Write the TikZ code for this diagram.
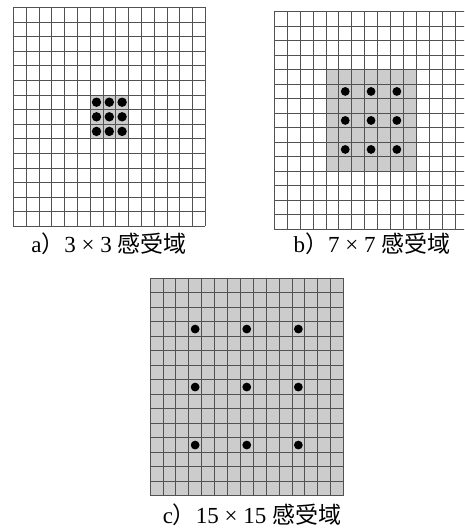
\documentclass[tikz,border=0pt]{standalone}
\usepackage{fontspec}
\setmainfont{Liberation Serif}
\newfontfamily\cjk{Noto Sans CJK SC}
\usetikzlibrary{positioning}
\tikzset{
  gline/.style  ={draw=black!68, line width=0.8pt},
  rfield/.style ={fill=black!20, draw=none},
  kdot/.style   ={fill=black},
  subcap/.style ={font=\fontsize{23}{27}\selectfont, inner sep=0pt},
}
% one 15x15 sheet of cells
\newcommand{\cellsheet}{%
  \foreach \i in {0,...,15} {
    \draw[gline] (\i,0) -- (\i,15);
    \draw[gline] (0,\i) -- (15,\i);
  }%
}

\begin{document}
\begin{tikzpicture}[x=1pt, y=-1pt]
\useasboundingbox (0,0) rectangle (464,528);
\clip (0,0) rectangle (464,528);
% a) 3x3
\begin{scope}[shift={(13.3pt,-7.3pt)}, x=12.8pt, y=-14.6pt]
  \fill[rfield] (6,6) rectangle (9,9);
  \cellsheet
  \foreach \c in {6,7,8} \foreach \r in {6,7,8}
    \fill[kdot] (\c+0.5,\r+0.5) circle (4.7pt);
\end{scope}
% b) 7x7
\begin{scope}[shift={(274.3pt,-11.7pt)}, x=12.9pt, y=-14.5pt]
  \fill[rfield] (4,4) rectangle (11,11);
  \cellsheet
  \foreach \c in {5,7,9} \foreach \r in {5,7,9}
    \fill[kdot] (\c+0.5,\r+0.5) circle (4.4pt);
\end{scope}
% c) 15x15
\begin{scope}[shift={(150pt,-278.3pt)}, x=12.9pt, y=-14.5pt]
  \fill[rfield] (0,0) rectangle (15,15);
  \cellsheet
  \foreach \c in {3,7,11} \foreach \r in {3,7,11}
    \fill[kdot] (\c+0.5,\r+0.5) circle (4.4pt);
\end{scope}
\node[subcap] (capa) at (109,244) {a{\cjk ）}3 × 3 {\cjk 感受域}};
\node[subcap] (capb) at (372,244) {b{\cjk ）}7 × 7 {\cjk 感受域}};
\node[subcap] (capc) at (252,515) {c{\cjk ）}15 × 15 {\cjk 感受域}};
\end{tikzpicture}
\end{document}
